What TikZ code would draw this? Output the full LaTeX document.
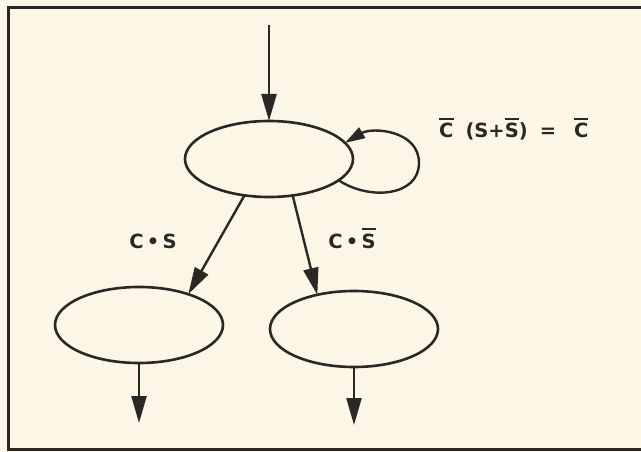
\documentclass[tikz,border=0pt]{standalone}
\usepackage{fontspec}
\setmainfont{DejaVu Sans}
\usetikzlibrary{shapes.geometric,arrows.meta}
\definecolor{paper}{HTML}{FCF6E6}
\definecolor{ink}{HTML}{2B2725}
\newcommand\ovl[1]{\leavevmode\vbox{\hrule height 2.4pt\kern 3.4pt\hbox{#1}}}
\begin{document}
\begin{tikzpicture}[x=1pt,y=-1pt,
  state/.style={ellipse,draw=ink,line width=2.6pt,inner sep=0pt,outer sep=0pt,
    minimum width=168pt,minimum height=76pt},
  arr/.style={draw=ink,line width=2.4pt,-{Triangle[length=27pt,width=15pt]}},
  arrsm/.style={draw=ink,line width=2.4pt,-{Triangle[length=20pt,width=12pt]}},
  lbl/.style={font=\fontsize{19.5}{22}\selectfont\bfseries,text=ink,inner sep=0pt,anchor=base}]
\useasboundingbox (0,0) rectangle (641,452);
\fill[paper] (0,0) rectangle (641,452);
\draw[ink,line width=3pt] (660,8) -- (8,8) -- (8,449) -- (660,449);
\node[state] (top) at (269,159) {};
\node[state] (bl) at (139,325) {};
\node[state] (br) at (354,329) {};
\coordinate (in) at (269,25);
\coordinate (blout) at (139,423);
\coordinate (brout) at (354,425);
\coordinate (loopR) at (419,163);
\draw[arr] (in) -- (top.north);
\draw[arr] (top.-124) -- (bl.32);
\draw[arr] (top.-57) -- (br.137);
\draw[arr] (bl.south) -- (blout);
\draw[arr] (br.south) -- (brout);
\draw[arrsm] (top.-17) .. controls (370,201) and (419,196) .. (loopR)
  .. controls (419,130) and (372,127) .. (top.12);
\node[lbl] (l1) at (153,248) {C\,•\,S};
\node[lbl] (l2) at (352,248) {C\,•\,\ovl{S}};
\node[lbl,anchor=base west] (l3) at (439,138) {\ovl{C}\hspace{12pt}(S+\ovl{S})\hspace{12pt}=\hspace{18pt}\ovl{C}};
\end{tikzpicture}
\end{document}
